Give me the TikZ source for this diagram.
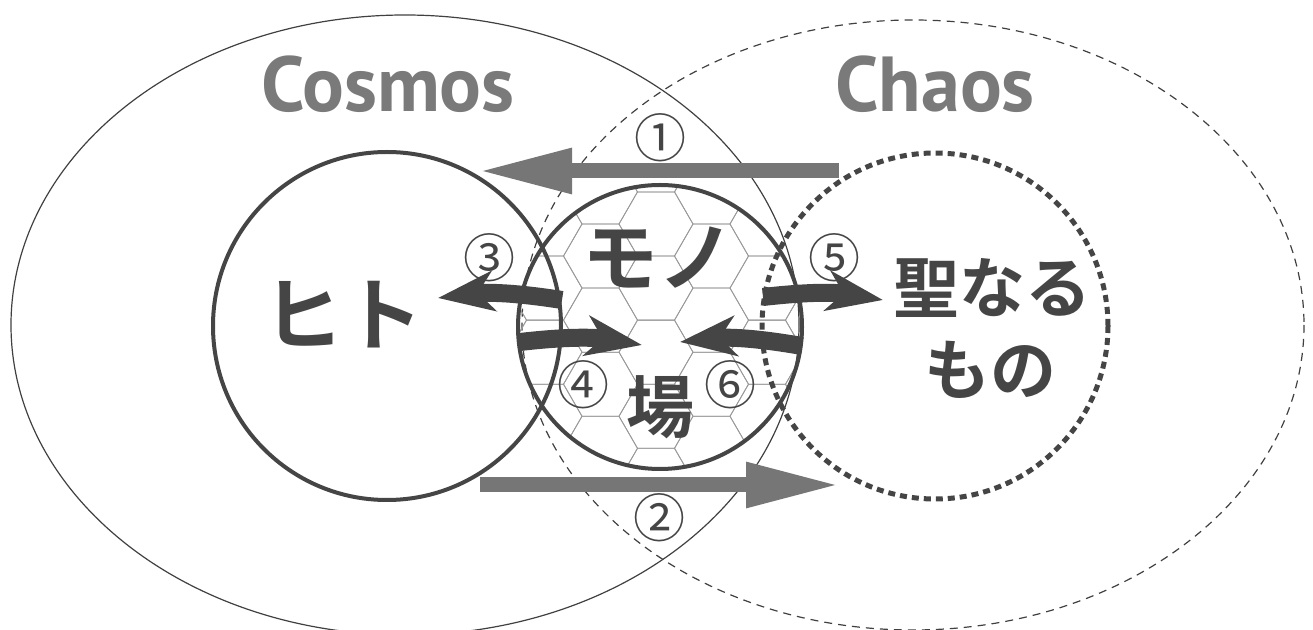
\documentclass[tikz,border=0pt]{standalone}
\usepackage{fontspec}
\setmainfont{PT Sans}
\newfontfamily\jpfont{Noto Sans CJK JP}
\newfontfamily\jpbold{Noto Sans CJK JP Bold}
\usetikzlibrary{arrows.meta}

\definecolor{inkgray}{HTML}{454545}
\definecolor{flowgray}{HTML}{767676}
\definecolor{titlegray}{HTML}{7A7A7A}

\tikzset{
  world/.style={line width=0.6pt, draw=black!75},
  ring/.style={line width=2pt, draw=inkgray},
  cell/.style={line width=0.4pt, draw=black!40},
  flow/.style={line width=7.5pt, draw=flowgray, -{Triangle[length=47pt, width=21pt]}},
  swoosh/.style={line width=9pt, draw=inkgray, -{Stealth[length=28pt, width=20pt, inset=8pt]}},
  num/.style={font=\jpfont\fontsize{26}{26}\selectfont, text=inkgray, inner sep=0pt},
  word/.style={font=\jpbold\fontsize{37}{37}\selectfont, text=inkgray, inner sep=0pt},
  title/.style={font=\bfseries\fontsize{39}{39}\selectfont, text=titlegray, inner sep=0pt, anchor=base},
}

\begin{document}
\begin{tikzpicture}[x=0.5pt, y=-0.5pt]
  \useasboundingbox (0,0) rectangle (1313,630);

  % Cosmos and Chaos
  \draw[world] (405,325) ellipse [x radius=394, y radius=310];
  \draw[world, dash pattern=on 4pt off 3pt] (913,325) ellipse [x radius=391, y radius=305];

  % honeycomb inside the field
  \begin{scope}
    \clip (660,327) circle [radius=141];
    \foreach \i in {-3,...,3}
      \foreach \j in {-2,...,4} {
        \pgfmathsetmacro{\hx}{656+55.5*\i}
        \pgfmathsetmacro{\hy}{224+64.09*\j+32.04*mod(abs(\i),2)}
        \draw[cell] (\hx,\hy) +(0:37) -- +(60:37) -- +(120:37) -- +(180:37) -- +(240:37) -- +(300:37) -- cycle;
      }
  \end{scope}

  % three circles
  \draw[ring] (387,326) circle [radius=174];
  \draw[ring] (660,327) circle [radius=142];
  \draw[ring, line width=2.5pt, dash pattern=on 3.5pt off 2.5pt] (935,326) circle [radius=173];

  % titles
  \node[title] (cosmos) at (388,112) {Cosmos};
  \node[title] (chaos) at (935,112) {Chaos};

  % words
  \node[word, font=\jpbold\fontsize{40}{40}\selectfont] (hito) at (343,315) {ヒト};
  \node[word, font=\jpbold\fontsize{38}{38}\selectfont] (mono) at (658,258) {モノ};
  \node[word, font=\jpbold\fontsize{34}{34}\selectfont] (ba) at (660,407) {場};
  \node[word, font=\jpbold\fontsize{33}{33}\selectfont] (sei) at (992,288) {聖なる};
  \node[word, font=\jpbold\fontsize{33}{33}\selectfont] (seimono) at (990,370) {もの};

  % straight flows
  \coordinate (f1s) at (839,171);
  \coordinate (f1e) at (478,171);
  \draw[flow] (f1s) -- (f1e);
  \coordinate (f2s) at (480,485);
  \coordinate (f2e) at (840,485);
  \draw[flow] (f2s) -- (f2e);

  % curved flows
  \coordinate (s3s) at (562,300);
  \coordinate (s3e) at (438,298);
  \draw[swoosh] (s3s) to[bend right=8] (s3e);
  \coordinate (s4s) at (520,342);
  \coordinate (s4e) at (642,345);
  \draw[swoosh] (s4s) to[bend left=8] (s4e);
  \coordinate (s5s) at (763,297);
  \coordinate (s5e) at (883,300);
  \draw[swoosh] (s5s) to[bend left=8] (s5e);
  \coordinate (s6s) at (802,346);
  \coordinate (s6e) at (680,342);
  \draw[swoosh] (s6s) to[bend right=8] (s6e);

  % numbers
  \node[num] (n1) at (660,138) {①};
  \node[num] (n2) at (659,518) {②};
  \node[num] (n3) at (489,258) {③};
  \node[num] (n4) at (583,385) {④};
  \node[num] (n5) at (834,258) {⑤};
  \node[num] (n6) at (730,385) {⑥};
\end{tikzpicture}
\end{document}
